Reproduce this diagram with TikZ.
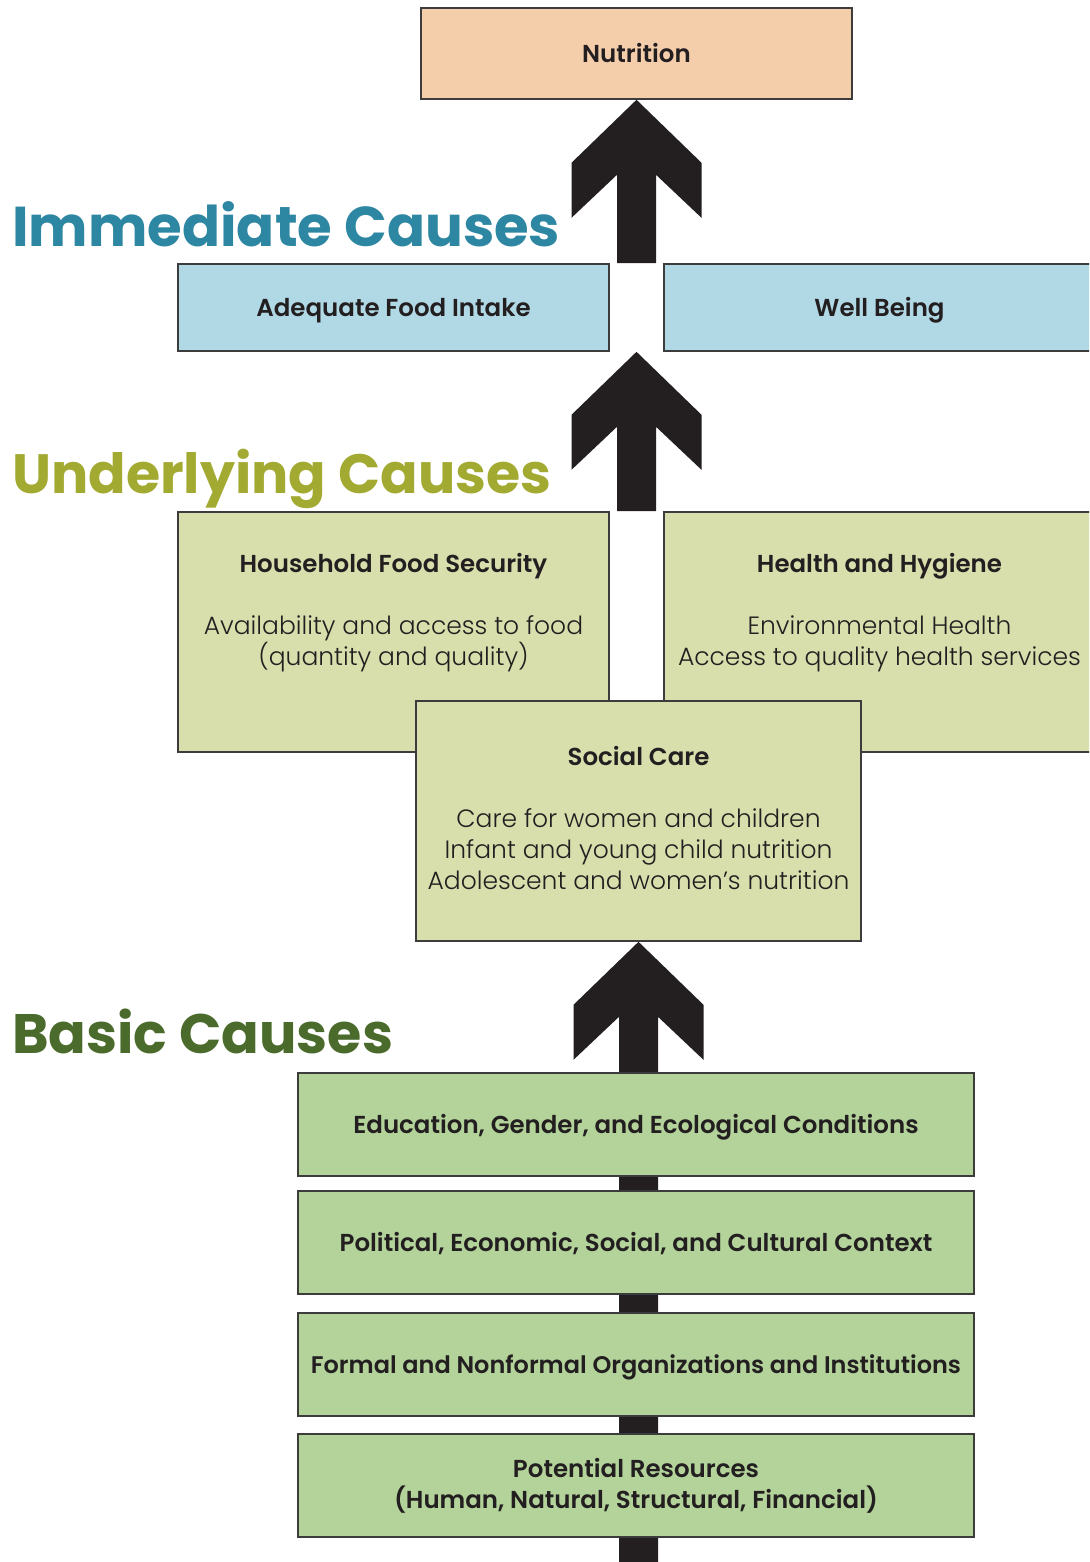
\documentclass[tikz,border=0pt]{standalone}
\usepackage{fontspec}
\setmainfont{Poppins}[BoldFont={Poppins SemiBold}]
\newfontfamily\headfont{Poppins}[UprightFont={* Bold}]
\newfontfamily\bodyfont{Poppins Light}
\usetikzlibrary{calc,backgrounds}
\definecolor{nutfill}{HTML}{F4CDAB}
\definecolor{immfill}{HTML}{B0D8E5}
\definecolor{undfill}{HTML}{D8DEAC}
\definecolor{basfill}{HTML}{B3D39A}
\definecolor{immtxt}{HTML}{2E87A2}
\definecolor{undtxt}{HTML}{A2AA32}
\definecolor{bastxt}{HTML}{4A6B2B}
\definecolor{ink}{HTML}{231F20}
\definecolor{edgec}{HTML}{3C3C3C}
\begin{document}
\begin{tikzpicture}[x=1pt,y=-1pt,
  box/.style={draw=edgec, line width=1.6pt, inner sep=0pt, text=ink,
    font=\fontsize{25}{31}\bodyfont, align=center},
  titlebox/.style={box, font=\fontsize{24.5}{31}\selectfont\bfseries},
  oneline/.style={titlebox, text height=18pt, text depth=0pt},
  heading/.style={anchor=base west, inner sep=0pt, font=\fontsize{60}{60}\headfont},
  blockarrow/.style={fill=ink}]
\clip (0,0) rectangle (1089,1562);

% boxes
\node[oneline, fill=nutfill, minimum width=431pt, minimum height=91pt] (nut) at (636.5,53.5) {Nutrition};
\node[oneline, fill=immfill, minimum width=431pt, minimum height=87pt] (afi) at (393.5,307.5) {Adequate Food Intake};
\node[oneline, fill=immfill, minimum width=431pt, minimum height=87pt] (wb) at (879.5,307.5) {Well Being};

\node[box, fill=undfill, minimum width=431pt, minimum height=240pt] (hfs) at (393.5,632)
  {\parbox[c][158pt][t]{425pt}{\centering{\fontsize{24.5}{31}\rmfamily\bfseries Household Food Security}\\[31pt]
   Availability and access to food\\(quantity and quality)}};
\node[box, fill=undfill, minimum width=431pt, minimum height=240pt] (hh) at (879.5,632)
  {\parbox[c][158pt][t]{425pt}{\centering{\fontsize{24.5}{31}\rmfamily\bfseries Health and Hygiene}\\[31pt]
   Environmental Health\\Access to quality health services}};
\node[box, fill=undfill, minimum width=445pt, minimum height=240pt] (sc) at (638.5,821)
  {\parbox[c][150pt][t]{440pt}{\centering{\fontsize{24.5}{31}\rmfamily\bfseries Social Care}\\[31pt]
   Care for women and children\\Infant and young child nutrition\\Adolescent and women’s nutrition}};

\node[oneline, fill=basfill, minimum width=676pt, minimum height=103pt] (b1) at (636,1124.5) {Education, Gender, and Ecological Conditions};
\node[oneline, fill=basfill, minimum width=676pt, minimum height=103pt] (b2) at (636,1242.5) {Political, Economic, Social, and Cultural Context};
\node[oneline, fill=basfill, minimum width=676pt, minimum height=103pt, font=\fontsize{24}{31}\selectfont\bfseries] (b3) at (636,1364.5) {Formal and Nonformal Organizations and Institutions};
\node[titlebox, fill=basfill, minimum width=676pt, minimum height=103pt] (b4) at (636,1485.5) {Potential Resources\\(Human, Natural, Structural, Financial)};

% headings
\node[heading, text=immtxt] (himm) at (12,246) {\resizebox{548pt}{!}{Immediate Causes}};
\node[heading, text=undtxt] (hund) at (12,493) {\resizebox{539pt}{!}{Underlying Causes}};
\node[heading, text=bastxt] (hbas) at (12,1053) {\resizebox{381pt}{!}{Basic Causes}};

% block arrows
\coordinate (gap1) at ($(afi.north east)!0.5!(wb.north west)$);
\coordinate (gap1b) at ($(afi.south east)!0.5!(wb.south west)$);
\coordinate (gap2) at ($(hfs.north east)!0.5!(hh.north west)$);
\coordinate (bot) at (638.5,1562);
\begin{scope}[on background layer]
\fill[white] (0,0) rectangle (1089,1562);
\foreach \tip/\base in {nut.south/gap1, gap1b/gap2, sc.south/bot}{
  \fill[blockarrow] let \p1=(\tip), \p2=(\base) in
    (\p1) -- ++(65,63) -- ++(0,55) -- ++(-45.5,-43) -- (\x1+19.5pt,\y2)
    -- (\x1-19.5pt,\y2) -- (\x1-19.5pt,\y1-75pt) -- ++(-45.5,43) -- ++(0,-55) -- cycle;
}
\end{scope}
\end{tikzpicture}
\end{document}
